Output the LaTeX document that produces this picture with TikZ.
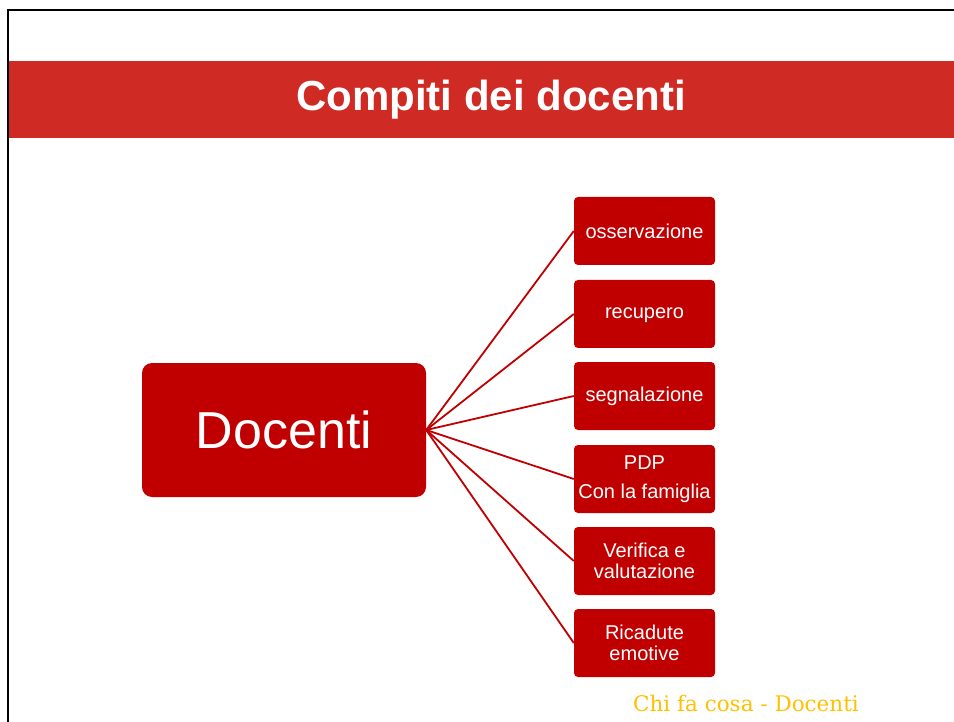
\documentclass[tikz,border=0pt]{standalone}
\usepackage{fontspec}
\setmainfont{Liberation Sans}
\newfontfamily\footfont{DejaVu Serif}
\definecolor{banner}{HTML}{D02A24}
\definecolor{boxred}{HTML}{C00000}
\definecolor{gold}{HTML}{FFC000}
\begin{document}
\begin{tikzpicture}[x=1pt,y=-1pt,
  small/.style={fill=boxred, rounded corners=4pt, minimum width=141pt, minimum height=68pt, inner sep=0pt, text=white, font=\fontsize{20}{21}\selectfont, align=center},
  link/.style={draw=boxred, line width=1.8pt}]
\useasboundingbox (0,0) rectangle (954,722);
\fill[white] (0,0) rectangle (954,722);
\fill[banner] (7,61) rectangle (954,138);
\draw[line width=2.5pt] (8,722) -- (8,10) -- (954,10);
\node[text=white, font=\fontsize{42}{44}\selectfont\bfseries] (title) at (491,100) {Compiti dei docenti};
\node[fill=boxred, rounded corners=10pt, minimum width=284pt, minimum height=134pt, inner sep=0pt, text=white, font=\fontsize{52}{54}\selectfont] (doc) at (284,430) {Docenti};
\node[small] (b1) at (644.5,231) {osservazione};
\node[small] (b2) at (644.5,314) {\strut recupero};
\node[small] (b3) at (644.5,396) {segnalazione};
\node[small, font=\fontsize{20}{29}\selectfont] (b4) at (644.5,479) {PDP\\Con la famiglia};
\node[small] (b5) at (644.5,561) {Verifica e\\valutazione};
\node[small] (b6) at (644.5,643) {Ricadute\\emotive};
\foreach \b in {b1,b2,b3,b4,b5,b6} \draw[link] (doc.east) -- (\b.west);
\node[text=gold, font=\footfont\fontsize{21.5}{22}\selectfont, anchor=base] (foot) at (746,711) {Chi fa cosa - Docenti};
\end{tikzpicture}
\end{document}
